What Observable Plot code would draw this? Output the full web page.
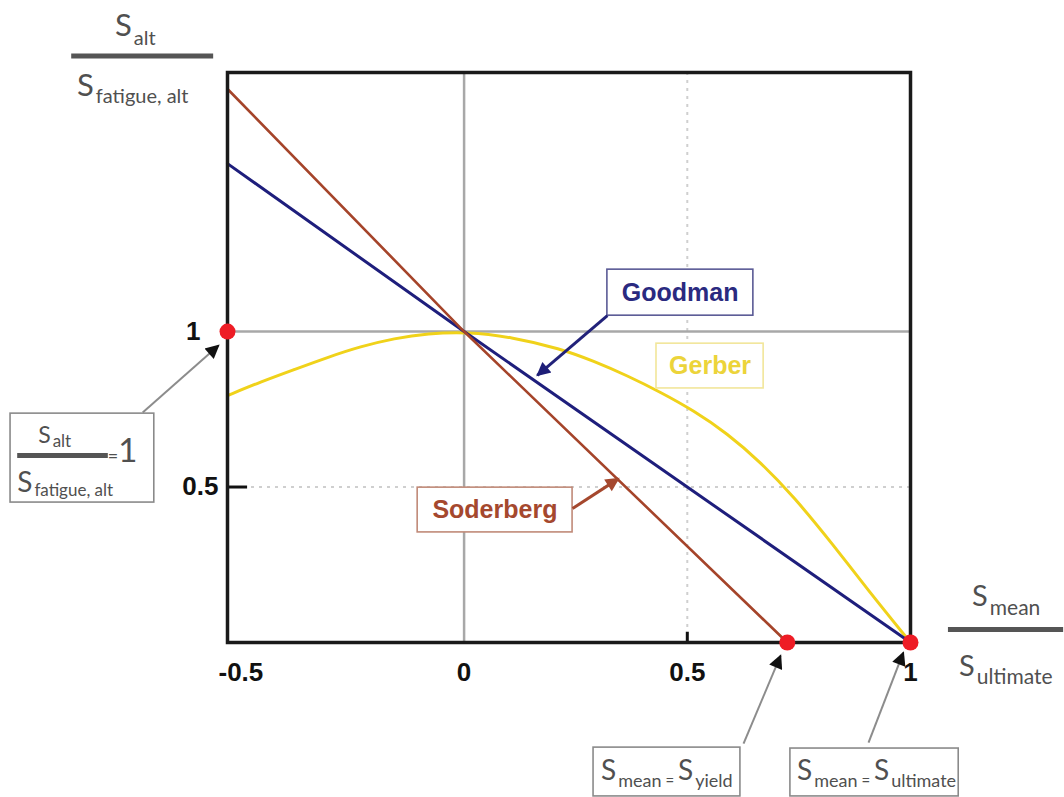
<!DOCTYPE html>
<html><head><meta charset="utf-8">
<script src="https://cdn.jsdelivr.net/npm/d3@7"></script>
<script src="https://cdn.jsdelivr.net/npm/@observablehq/plot@0.6"></script>
<style>html,body{margin:0;padding:0;background:#fff} svg{display:block}</style>
</head><body><div id="chart"></div>
<script>
// ---- scales / ticks
const xDomain = [-0.53, 1.0];
const yDomain = [0, 1.833];
const xTicks = [-0.5, 0, 0.5, 1];
const yTickOne = [1];
const yTickHalf = [0.5];

// ---- series
const goodmanX = [-0.53, 0, 1];
const goodmanY = [1.54, 1, 0];
const soderbergX = [-0.53, 0, 0.724];
const soderbergY = [1.78, 1, 0];
const gerberX = [-0.53, -0.456, -0.380, -0.306, -0.232, -0.156, -0.082, 0.008, 0.104, 0.216, 0.290, 0.366, 0.440, 0.514, 0.590, 0.664, 0.738, 0.828, 0.904, 1.0];
const gerberY = [0.794, 0.838, 0.878, 0.917, 0.952, 0.978, 0.994, 0.999, 0.983, 0.945, 0.905, 0.858, 0.805, 0.746, 0.672, 0.580, 0.470, 0.312, 0.170, 0];

// ---- highlighted points
const pointX = [-0.53, 0.724, 1.0];
const pointY = [1, 0, 0];

// ---- series labels
const labelText = ["Goodman", "Gerber", "Soderberg"];
const labelX = [0.484, 0.551, 0.069];
const labelY = [1.125, 0.889, 0.426];
const labelColor = ["#2a2a80", "#ecd43a", "#a5482e"];

// ---- label boxes
const boxX1 = [0.321, 0.431, -0.104, -1.016, 0.290, 0.731];
const boxX2 = [0.648, 0.671, 0.243, -0.694, 0.619, 1.108];
const boxY1 = [1.051, 0.817, 0.354, 0.450, -0.495, -0.495];
const boxY2 = [1.199, 0.961, 0.498, 0.736, -0.338, -0.341];
const boxStroke = ["#5a5a95", "#f2e69a", "#c08a78", "#8a8a8a", "#8a8a8a", "#8a8a8a"];

// ---- arrows
const arrowX1 = [0.321, 0.243, -0.720, 0.626, 0.906];
const arrowY1 = [1.051, 0.431, 0.740, -0.325, -0.322];
const arrowX2 = [0.164, 0.346, -0.550, 0.709, 0.984];
const arrowY2 = [0.859, 0.527, 0.955, -0.042, -0.032];
const arrowStroke = ["#22227a", "#a5482e", "#8c8c8c", "#8c8c8c", "#8c8c8c"];
const arrowWidth = [3, 3, 2, 2, 2];
const arrowHead = ["#1e1e78", "#a5482e", "#111111", "#111111", "#111111"];

// ---- fraction bars
const barX1 = [-0.879, 1.085, -1.0];
const barX2 = [-0.561, 1.343, -0.797];
const barY = [1.886, 0.042, 0.601];

// ---- rich-text formula labels (S with subscripts)
const formulaX = [-0.781, -0.866, 1.139, 1.110, -0.953, -1.0, 0.308, 0.747];
const formulaY = [1.949, 1.756, 0.116, -0.109, 0.640, 0.482, -0.444, -0.444];
const formulaParts = [
  [["S", 31, 0], ["alt", 20, 9]],
  [["S", 31, 0], ["fatigue, alt", 20, 7]],
  [["S", 29, 0], ["mean", 21, 9]],
  [["S", 29, 0], ["ultimate", 21, 8]],
  [["S", 23, 0], ["alt", 17, 4]],
  [["S", 28, 0], ["fatigue, alt", 17, 4]],
  [["S", 28, 0], ["mean", 18, 7], [" = ", 15, 6], ["S", 28, 0], ["yield", 18, 7]],
  [["S", 28, 0], ["mean", 18, 7], [" = ", 15, 6], ["S", 28, 0], ["ultimate", 18, 7]]
];
const equalsX = -0.797, equalsY = 0.579;

// ---- build tables
const goodman = goodmanX.map((x, i) => ({x, y: goodmanY[i]}));
const soderberg = soderbergX.map((x, i) => ({x, y: soderbergY[i]}));
const gerber = gerberX.map((x, i) => ({x, y: gerberY[i]}));
const points = pointX.map((x, i) => ({x, y: pointY[i]}));
const labels = labelText.map((t, i) => ({t, x: labelX[i], y: labelY[i], c: labelColor[i]}));
const boxes = boxX1.map((x1, i) => ({x1, x2: boxX2[i], y1: boxY1[i], y2: boxY2[i], s: boxStroke[i]}));
const arrows = arrowX1.map((x1, i) => ({x1, y1: arrowY1[i], x2: arrowX2[i], y2: arrowY2[i], s: arrowStroke[i], w: arrowWidth[i], h: arrowHead[i]}));
const bars = barX1.map((x1, i) => ({x1, x2: barX2[i], y: barY[i]}));

const x0 = xDomain[0];
const plot = Plot.plot({
  width: 1064, height: 797,
  marginLeft: 227, marginRight: 154, marginTop: 72, marginBottom: 155,
  x: {domain: xDomain, axis: null},
  y: {domain: yDomain, axis: null},
  color: {type: "identity"},
  style: {fontFamily: "'Liberation Sans', Arial, sans-serif", background: "white", overflow: "visible"},
  marks: [
    Plot.ruleX([0.5], {stroke: "#cfcfcf", strokeWidth: 2, strokeDasharray: "3,5"}),
    Plot.ruleY([0.5], {stroke: "#cfcfcf", strokeWidth: 2, strokeDasharray: "3,5"}),
    Plot.ruleX([0], {stroke: "#a8a8a8", strokeWidth: 2.5}),
    Plot.ruleY([1], {stroke: "#a8a8a8", strokeWidth: 2.5}),
    Plot.ruleX(yTickHalf, {x: d => d, y1: 0, y2: 0.033, stroke: "#111", strokeWidth: 3}),
    Plot.ruleY(yTickHalf, {y: d => d, x1: x0, x2: x0 + 0.045, stroke: "#111", strokeWidth: 3}),
    Plot.line(gerber, {x: "x", y: "y", stroke: "#f0d21a", strokeWidth: 3, curve: "basis"}),
    Plot.line(goodman, {x: "x", y: "y", stroke: "#1e1e7c", strokeWidth: 3}),
    Plot.line(soderberg, {x: "x", y: "y", stroke: "#a5442a", strokeWidth: 2.6}),
    Plot.rect(boxes, {x1: "x1", x2: "x2", y1: "y1", y2: "y2", fill: "white", stroke: "s", strokeWidth: 1.6}),
    Plot.text(labels, {x: "x", y: "y", text: "t", fill: "c", fontSize: 25, fontWeight: "bold"}),
    Plot.link(arrows, {x1: "x1", y1: "y1", x2: "x2", y2: "y2", stroke: "s", strokeWidth: "w"}),
    Plot.ruleY(bars, {y: "y", x1: "x1", x2: "x2", stroke: "#555", strokeWidth: 5}),
    Plot.text(xTicks, {x: d => d, frameAnchor: "bottom", dy: 38, text: d => String(d), fontSize: 26, fontWeight: "bold", fill: "#111"}),
    Plot.text(yTickOne, {y: d => d, frameAnchor: "left", dx: -27, textAnchor: "end", text: d => String(d), fontSize: 26, fontWeight: "bold", fill: "#111"}),
    Plot.text(yTickHalf, {y: d => d, frameAnchor: "left", dx: -9, textAnchor: "end", text: d => String(d), fontSize: 26, fontWeight: "bold", fill: "#111"}),
    Plot.frame({stroke: "#1a1a1a", strokeWidth: 3.5}),
    Plot.dot(points, {x: "x", y: "y", r: 8, fill: "#ee1c25"})
  ]
});

document.getElementById("chart").appendChild(plot);

// ---- arrowheads
const svg = d3.select(plot);
const defs = svg.insert("defs", ":first-child");
const heads = Array.from(new Set(arrowHead));
heads.forEach((c, k) => {
  defs.append("marker")
    .attr("id", "ah" + k)
    .attr("viewBox", "0 0 10 10").attr("refX", 9).attr("refY", 5)
    .attr("markerWidth", 17).attr("markerHeight", 14)
    .attr("markerUnits", "userSpaceOnUse").attr("orient", "auto")
    .append("path").attr("d", "M0,0L10,5L0,10z").attr("fill", c);
});
svg.selectAll('g[aria-label="link"] path').each(function(_, i) {
  d3.select(this).attr("marker-end", `url(#ah${heads.indexOf(arrows[i].h)})`);
});

// ---- formula labels
const sx = plot.scale("x"), sy = plot.scale("y");
const g = svg.append("g")
  .attr("font-family", "Lato, 'Open Sans', sans-serif")
  .attr("fill", "#505050")
  .attr("text-anchor", "start");
formulaParts.forEach((parts, i) => {
  const t = g.append("text").attr("x", sx.apply(formulaX[i])).attr("y", sy.apply(formulaY[i]));
  let prev = 0;
  parts.forEach(([s, size, shift], j) => {
    t.append("tspan").attr("font-size", size).attr("dy", shift - prev)
      .attr("dx", j > 0 && shift > 0 && prev === 0 ? 2 : 0)
      .style("white-space", "pre").text(s);
    prev = shift;
  });
});
const eq = g.append("text").attr("x", sx.apply(equalsX)).attr("y", sy.apply(equalsY));
eq.append("tspan").attr("font-size", 18).text("=");
eq.append("tspan").attr("font-size", 33).text("1");
</script></body></html>
